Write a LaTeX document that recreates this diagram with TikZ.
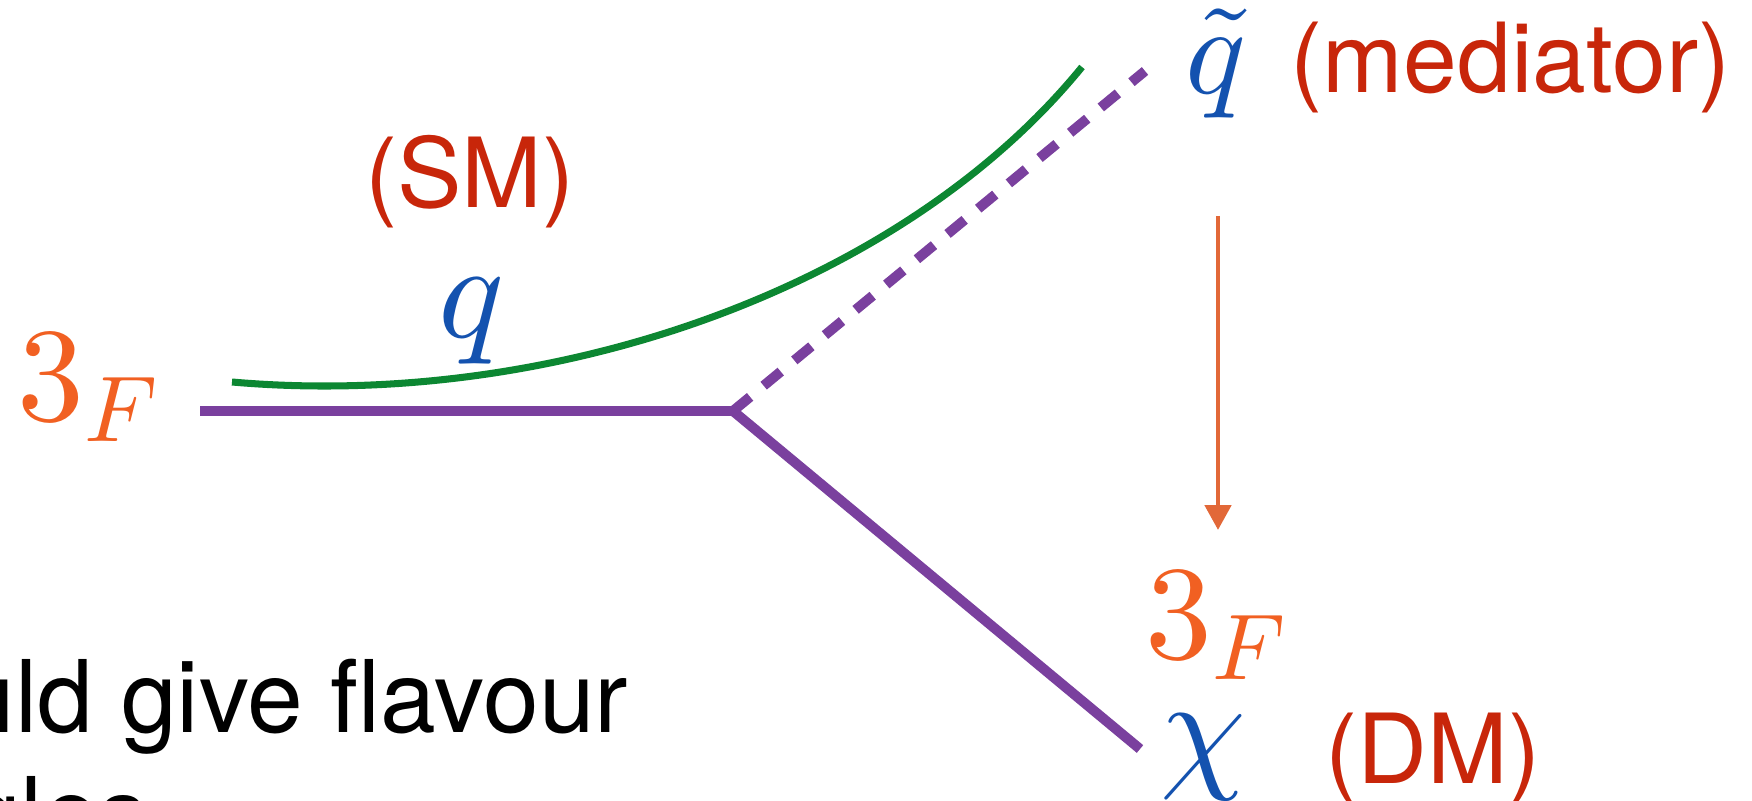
\documentclass[tikz,border=0pt]{standalone}
\usepackage[no-math]{fontspec}
\newfontfamily\slidefont{TeX Gyre Heros}
\usepackage{xcolor}
\usetikzlibrary{arrows.meta, positioning}

% scalable CM math at any size
\DeclareFontFamily{OT1}{cmr}{\hyphenchar\font45 }
\DeclareFontShape{OT1}{cmr}{m}{n}{<->cmr10}{}
\DeclareFontFamily{OML}{cmm}{\skewchar\font127 }
\DeclareFontShape{OML}{cmm}{m}{it}{<->cmmi10}{}
\DeclareFontFamily{OMS}{cmsy}{\skewchar\font48 }
\DeclareFontShape{OMS}{cmsy}{m}{n}{<->cmsy10}{}
\DeclareFontFamily{OMX}{cmex}{}
\DeclareFontShape{OMX}{cmex}{m}{n}{<->cmex10}{}

\definecolor{smred}{RGB}{200,38,10}
\definecolor{flavorange}{RGB}{241,96,34}
\definecolor{qblue}{RGB}{20,82,175}
\definecolor{medpurple}{RGB}{122,64,158}
\definecolor{smgreen}{RGB}{12,135,50}
\definecolor{arrorange}{RGB}{226,104,56}

\begin{document}
\begin{tikzpicture}[
  x=0.01cm, y=-0.01cm,
  lbl/.style={inner sep=0pt, text=smred, font=\slidefont\fontsize{27.5}{32}\selectfont},
  note/.style={inner sep=0pt, text=black, font=\slidefont\fontsize{28.5}{34}\selectfont},
  sym/.style={inner sep=0pt, text=qblue, font=\fontsize{39}{46}\selectfont},
  flav/.style={inner sep=0pt, text=flavorange, font=\fontsize{38}{46}\selectfont},
  prop/.style={line width=2.85pt, draw=medpurple},
  scalar/.style={prop, dash pattern=on 6.3pt off 5pt},
  quark/.style={line width=2pt, draw=smgreen},
  arrow/.style={-{Triangle[width=7.4pt,length=7.1pt]}, line width=1.4pt, draw=arrorange}
]
\useasboundingbox (0,0) rectangle (1752,801);
\clip (0,0) rectangle (1752,801);

% Nodes
\node[flav, anchor=base west] (in3) at (17,421) {$3_F$};
\node[lbl] (sm) at (470,182) {(SM)};
\node[sym] (q) at (472,321) {$q$};
\node[sym, font=\fontsize{36}{42}\selectfont] (qt) at (1216,64) {$\tilde{q}$};
\node[lbl, anchor=west] (med) at (1290,68) {(mediator)};
\node[flav, anchor=base west] (out3) at (1145,659) {$3_F$};
\node[sym] (chi) at (1203,757) {$\chi$};
\node[lbl, anchor=west] (dm) at (1325,759) {(DM)};
\node[note, anchor=base west] (note) at (-147,733) {could give flavour};
\node[note, anchor=base west] (note2) at (-147,850) {angles};

% Lines
\coordinate (v) at (733,411);
\coordinate (lstart) at (200,411);
\coordinate (dmend) at (1140,749);
\coordinate (medend) at (1145,71);
\coordinate (gstart) at (232,382);
\coordinate (gend) at (1082,67);
\coordinate (atop) at (1218,216);
\coordinate (abot) at (1218,530);

\draw[prop] (lstart) -- (v);
\draw[prop] (v) -- (dmend);
\draw[scalar] (v) -- (medend);
\draw[quark] (gstart) .. controls (550,410) and (900,290) .. (gend);

% Pointers
\draw[arrow] (atop) -- (abot);

\end{tikzpicture}
\end{document}
